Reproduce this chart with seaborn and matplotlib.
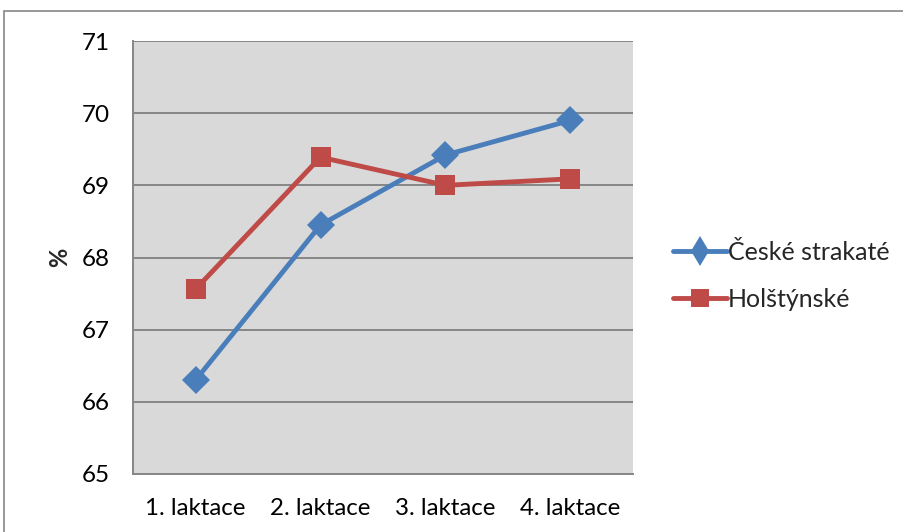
import matplotlib
matplotlib.use("Agg")
import matplotlib.pyplot as plt
import seaborn as sns
import pandas as pd
from matplotlib.patches import Rectangle
from matplotlib.lines import Line2D

categories = ["1. laktace", "2. laktace", "3. laktace", "4. laktace"]
ceske_strakate = [66.30, 68.45, 69.42, 69.90]
holstynske = [67.56, 69.39, 69.00, 69.09]
series_names = ["České strakaté", "Holštýnské"]
y_ticks = [65, 66, 67, 68, 69, 70, 71]

df = pd.DataFrame({
    "laktace": categories * 2,
    "pos": list(range(len(categories))) * 2,
    "value": ceske_strakate + holstynske,
    "plemeno": [series_names[0]] * 4 + [series_names[1]] * 4,
})

sns.set_theme(style="white")
plt.rcParams["font.family"] = ["Lato", "DejaVu Sans"]

fig = plt.figure(figsize=(9.04, 5.32), dpi=100)
ax = fig.add_axes([133 / 904, 1 - 474 / 532, 500 / 904, (474 - 41) / 532])

palette = {series_names[0]: "#4A7EBB", series_names[1]: "#BE4B48"}
markers = {series_names[0]: "D", series_names[1]: "s"}
marker_sizes = {"D": 14, "s": 14.5}
line_w = 3.5

sns.lineplot(data=df, x="pos", y="value", hue="plemeno", style="plemeno",
             palette=palette, markers=markers, dashes=False, linewidth=line_w,
             markeredgewidth=0, ax=ax, legend=False, zorder=3)
for line in ax.get_lines():
    m = line.get_marker()
    if m in marker_sizes:
        line.set_markersize(marker_sizes[m])

ax.set_facecolor("#D9D9D9")
ax.set_xlim(-0.5, 3.5)
ax.set_ylim(65, 71)
ax.set_yticks(y_ticks)
ax.set_yticklabels([str(t) for t in y_ticks], fontsize=17.5)
ax.set_xticks(range(len(categories)))
ax.set_xticklabels(categories, fontsize=17.3)
ax.tick_params(axis="x", length=0, pad=17, colors="#000000")
ax.tick_params(axis="y", length=0, pad=17, colors="#000000")
ax.grid(axis="y", color="#868686", linewidth=1.4)
ax.set_axisbelow(True)
for side in ["top", "right"]:
    ax.spines[side].set_visible(False)
for side in ["left", "bottom"]:
    ax.spines[side].set_color("#868686")
    ax.spines[side].set_linewidth(1.4)
ax.set_xlabel("")
ax.set_ylabel("%", fontsize=17, fontweight="bold", labelpad=7)

# chart frame
fig.patches.append(Rectangle((4 / 904, -0.1), 1.2, 1 - 11 / 532 + 0.1,
                             transform=fig.transFigure, fill=False,
                             edgecolor="#868686", linewidth=1.2))

legend_markers = {"D": ("d", 15), "s": ("s", 13)}
handles = [Line2D([], [], color=palette[n], marker=legend_markers[markers[n]][0],
                  linewidth=line_w, markersize=legend_markers[markers[n]][1],
                  markeredgewidth=0)
           for n in series_names]
fig.legend(handles, series_names, loc="upper left",
           bbox_to_anchor=(673 / 904, 1 - 241 / 532), frameon=False,
           fontsize=18, handlelength=2.15, handletextpad=0.05, labelspacing=0.95,
           borderaxespad=0, borderpad=0)

fig.savefig("out.png", dpi=100)
